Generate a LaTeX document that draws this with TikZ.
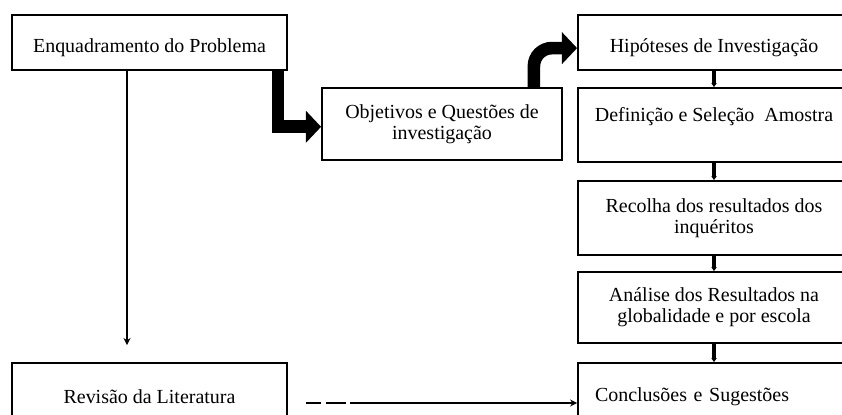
\documentclass[tikz,border=0pt]{standalone}
\usepackage{fontspec}
\setmainfont{Liberation Serif}
\usetikzlibrary{arrows.meta}

\begin{document}
\begin{tikzpicture}[
		stage/.style={draw, line width=1.3pt, align=center, inner sep=0pt,
			font=\fontsize{14.2}{15}\selectfont,
			execute at begin node={\rule{0pt}{17pt}}},
		bigarrow/.style={line width=9pt, -{Triangle[width=0.78cm,length=0.38cm]}},
		thinarrow/.style={line width=2pt, -{Stealth[length=5pt,width=5pt]}},
		linkarrow/.style={line width=2.5pt, -{Stealth[length=3pt,width=4pt]}}
	]
	\useasboundingbox (0,0) rectangle (21.05,-10.35);

	% left column
	\node[stage, minimum width=6.875cm, minimum height=1.375cm] (enq) at (3.7375,-1.0625) {Enquadramento do Problema};
	\node[stage, minimum width=6.875cm, minimum height=1.45cm] (rev) at (3.7375,-9.8) {Revisão da Literatura};
	\node[stage, minimum width=6cm, minimum height=1.8cm] (obj) at (11.05,-3.1) {Objetivos e Questões de\\investigação};

	% right column
	\node[stage, minimum width=6.8cm, minimum height=1.375cm] (hip) at (17.85,-1.0625) {Hipóteses de Investigação};
	\node[stage, minimum width=6.8cm, minimum height=1.85cm] (def) at (17.85,-3.125) {Definição e Seleção\ \ Amostra\\\mbox{}};
	\node[stage, minimum width=6.8cm, minimum height=1.85cm] (rec) at (17.85,-5.45) {Recolha dos resultados dos\\inquéritos};
	\node[stage, minimum width=6.8cm, minimum height=1.775cm] (ana) at (17.85,-7.6875) {Análise dos Resultados na\\globalidade e por escola};
	\node[stage, minimum height=1.45cm, text width=5.95cm, inner xsep=0.425cm, align=left] (con) at (17.85,-9.8) {Conclusões e Sugestões};

	% connectors
	\coordinate (litend) at (3.175,-8.625);
	\draw[thinarrow] ([xshift=-0.5625cm]enq.south) -- (litend);
	\draw[bigarrow] ([xshift=-0.25cm]enq.south east) |- ([yshift=-0.07cm]obj.west);
	\draw[bigarrow, rounded corners=0.45cm] ([xshift=-0.725cm]obj.north east) |- ([yshift=-0.14cm]hip.west);
	\draw[linkarrow] (hip) -- (def);
	\draw[linkarrow] (def) -- (rec);
	\draw[linkarrow] (rec) -- (ana);
	\draw[linkarrow] (ana) -- (con);
	\draw[thinarrow, dash pattern=on 0.375cm off 0.125cm on 0.5cm off 0.1cm on 12cm]
		([xshift=0.45cm, yshift=-0.275cm]rev.east) -- ([yshift=-0.275cm]con.west);
\end{tikzpicture}
\end{document}
